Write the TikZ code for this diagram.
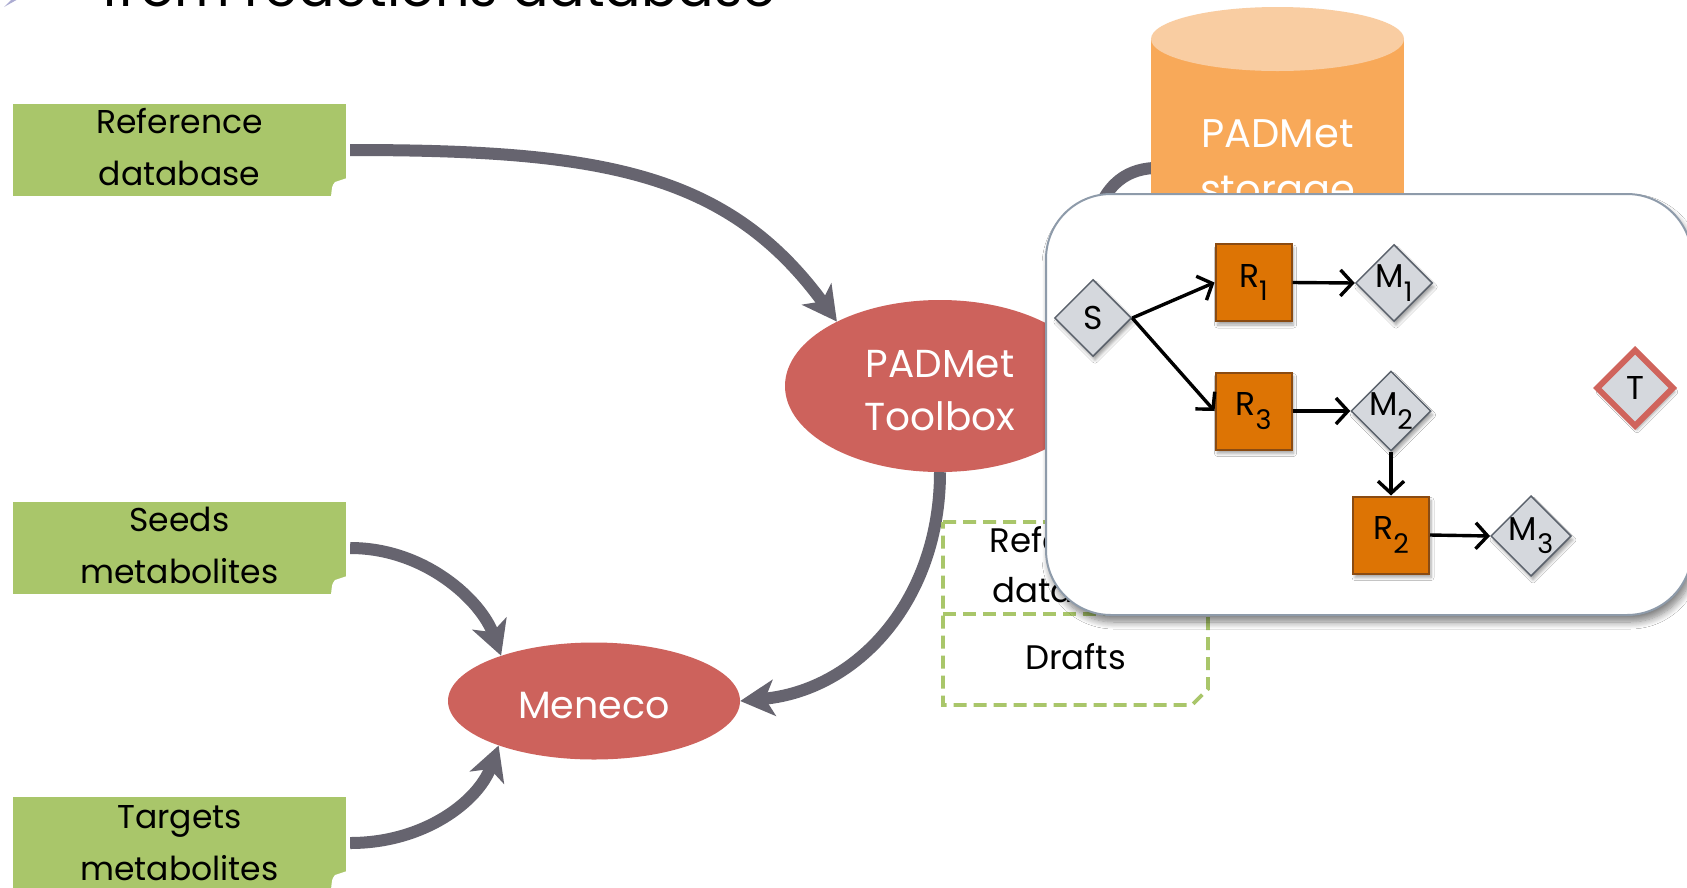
\documentclass[tikz,border=0pt]{standalone}
\usepackage{fontspec}
\setmainfont{Poppins}
\usetikzlibrary{arrows.meta,shapes.geometric,shadows.blur}
\definecolor{boxgreen}{HTML}{A9C66A}
\definecolor{arrowgray}{HTML}{66646F}
\definecolor{ellred}{HTML}{CD625C}
\definecolor{cylbody}{HTML}{F8A959}
\definecolor{cyltop}{HTML}{F9CDA2}
\definecolor{panelborder}{HTML}{8E9BAA}
\definecolor{dfill}{HTML}{D5D8DD}
\definecolor{dborder}{HTML}{5A616B}
\definecolor{rorange}{HTML}{DD7404}
\definecolor{rborder}{HTML}{8A4B12}
\definecolor{tborder}{HTML}{D0645C}
\newcommand\psub[1]{\raisebox{-0.4em}{\fontsize{27}{27}\selectfont #1}}
\begin{document}
\begin{tikzpicture}[x=1pt,y=-1pt,
  greenbox/.style={rectangle,fill=boxgreen,minimum width=333pt,minimum height=92pt,inner sep=0pt},
  gtext/.style={align=center,inner sep=0pt,font=\fontsize{33}{52}\selectfont,yshift=3pt},
  notch/.style={fill=white},
  redell/.style={ellipse,fill=ellred,inner sep=0pt},
  etext/.style={text=white,align=center,inner sep=0pt,yshift=-5pt},
  bigarrow/.style={draw=arrowgray,line width=12pt,-{Stealth[length=34pt,width=36pt,inset=9pt]}},
  dashbox/.style={draw=boxgreen,line width=3.6pt,dash pattern=on 13pt off 7pt},
  boxtext/.style={rectangle,inner sep=0pt,minimum width=265pt,align=center,font=\fontsize{34}{50}\selectfont},
  panel/.style={rectangle,rounded corners=65pt,fill=white,draw=panelborder,line width=2pt,
    blur shadow={shadow xshift=3pt,shadow yshift=-7pt,shadow blur radius=7pt,shadow blur steps=10,shadow opacity=50}},
  smallshadow/.style={blur shadow={shadow xshift=2pt,shadow yshift=-4pt,shadow blur radius=3pt,shadow blur steps=6,shadow opacity=35}},
  metab/.style={diamond,aspect=1,minimum width=77pt,minimum height=77pt,inner sep=0pt,fill=dfill,draw=dborder,line width=1.5pt,smallshadow,font=\fontsize{33}{33}\selectfont},
  react/.style={rectangle,minimum width=76pt,minimum height=77pt,inner sep=0pt,fill=rorange,draw=rborder,line width=2pt,smallshadow,font=\fontsize{33}{33}\selectfont},
  parrow/.style={draw=black,line width=3.4pt,-{Straight Barb[length=12pt,width=26pt]}}
]
\clip (0,0) rectangle (1687,887);
\fill[white] (0,0) rectangle (1687,887);

% title (cut off at the top)
\fill[gray!70!blue!50] (4,7) -- (13,-2) -- (20,-2) -- cycle;
\node[anchor=base west,inner sep=0pt,font=\fontsize{54}{60}\selectfont] (title) at (102,6) {from reactions database};

% hidden arc from storage
\coordinate (arcend) at (1090,240);
\draw[arrowgray,line width=12pt] (1153,168) .. controls (1125,170) and (1100,185) .. (arcend);

% green boxes
\node[greenbox,label={[gtext]center:{Reference\\database}}] (ref) at (179.5,150) {};
\fill[notch] (347,178) -- (335,182) .. controls (332,186) .. (331,197) -- (347,197) -- cycle;
\node[greenbox,label={[gtext]center:{Seeds\\metabolites}}] (seeds) at (179.5,548) {};
\fill[notch] (347,576) -- (335,580) .. controls (332,584) .. (331,595) -- (347,595) -- cycle;
\node[greenbox,label={[gtext,yshift=-3pt]center:{Targets\\metabolites}}] (targets) at (179.5,843) {};
\fill[notch] (347,871) -- (335,875) .. controls (332,879) .. (331,890) -- (347,890) -- cycle;

% ellipses
\node[redell,minimum width=310pt,minimum height=172pt,
  label={[etext,font=\fontsize{39}{53}\selectfont]center:{PADMet\\Toolbox}}] (toolbox) at (940,386) {};
\node[redell,minimum width=292pt,minimum height=117pt,
  label={[etext,font=\fontsize{38}{50}\selectfont]center:Meneco}] (meneco) at (594,701) {};

% big arrows
\draw[bigarrow] ([xshift=4pt]ref.east) .. controls +(250,0) and +(-110,-150) .. (toolbox.148);
\draw[bigarrow] (toolbox.south) .. controls +(0,127) and +(118,-11) .. (meneco.east);
\draw[bigarrow] ([xshift=4pt]seeds.east) .. controls +(75,0) and +(-20,-55) .. (meneco.154);
\draw[bigarrow] ([xshift=4pt]targets.east) .. controls +(75,0) and +(-20,55) .. (meneco.205);

% storage cylinder
\fill[cylbody] (1151,39) rectangle (1404,330);
\fill[cyltop] (1277.5,39) ellipse (126.5pt and 32pt);
\node[text=white,align=center,inner sep=0pt,font=\fontsize{40}{56}\selectfont] (storage) at (1277.5,167) {PADMet\\storage};

% dashed reference / drafts box
\node[boxtext,minimum height=92pt] (refdb) at (1075.5,565) {Reference\\database};
\node[boxtext,minimum height=91pt] (drafts) at (1075.5,656.5) {Drafts};
\draw[dashbox] (943,522) -- (1208,522) -- (1208,689) -- (1192,705) -- (943,705) -- cycle;
\draw[dashbox] (943,614) -- (1208,614);

% panel
\node[panel,minimum width=646pt,minimum height=421pt] (panel) at (1369,404.5) {};

% network
\node[metab] (S) at (1093,318) {S};
\node[react] (R1) at (1253.5,282.5) {R\psub{1}};
\node[metab] (M1) at (1394,283) {M\psub{1}};
\node[react] (R3) at (1253.5,411) {R\psub{3}};
\node[metab] (M2) at (1391,411) {M\psub{2}};
\node[react] (R2) at (1391,535) {R\psub{2}};
\node[metab] (M3) at (1531,536) {M\psub{3}};
\node[metab,draw=tborder,line width=6pt,minimum width=78pt,minimum height=78pt] (T) at (1635,388) {T};

\draw[parrow] (S.east) -- (R1.west);
\draw[parrow] (S.east) -- (R3.west);
\draw[parrow] (R1.east) -- (M1.west);
\draw[parrow] (R3.east) -- (M2.west);
\draw[parrow] (M2.south) -- (R2.north);
\draw[parrow] (R2.east) -- (M3.west);
\end{tikzpicture}
\end{document}
